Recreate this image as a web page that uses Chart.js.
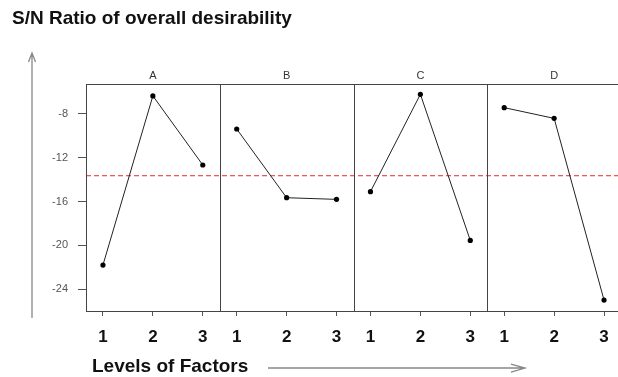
<!DOCTYPE html>
<html>
<head>
<meta charset="utf-8">
<script src="https://cdn.jsdelivr.net/npm/chart.js@4.4.1/dist/chart.umd.min.js"></script>
<style>
  html, body { margin: 0; padding: 0; background: #fff; overflow: hidden; width: 618px; height: 377px; }
  canvas { display: block; }
</style>
</head>
<body>
<canvas id="canvas" width="625" height="377" style="width:625px;height:377px"></canvas>
<script>
// values
const factors = ['A', 'B', 'C', 'D'];
const levels = [1, 2, 3];
const snA = [-21.8, -6.35, -12.66];
const snB = [-9.37, -15.65, -15.8];
const snC = [-15.1, -6.2, -19.55];
const snD = [-7.42, -8.4, -25.0];
const yTicks = [-8, -12, -16, -20, -24];
const overallMean = -13.64;

const yMin = -26.0, yMax = -5.26;
const pad = 0.34;
const span = (levels.length - 1) + 2 * pad;
const xMin = levels[0] - pad;
const xMax = xMin + span * factors.length;

const series = [snA, snB, snC, snD];
const xPos = (k, lv) => k * span + lv;

const datasets = series.map((vals, k) => ({
  label: factors[k],
  data: vals.map((v, i) => ({ x: xPos(k, levels[i]), y: v })),
  borderColor: '#222',
  backgroundColor: '#000',
  borderWidth: 1,
  pointRadius: 2.6,
  pointBorderWidth: 0,
  tension: 0
}));
datasets.push({
  label: 'mean',
  data: [{ x: xMin, y: overallMean }, { x: xMax, y: overallMean }],
  borderColor: 'rgb(238,40,40)',
  borderWidth: 1,
  borderDash: [5, 3],
  pointRadius: 0
});

const tickPositions = [];
factors.forEach((f, k) => levels.forEach(lv => tickPositions.push(xPos(k, lv))));

const decor = {
  id: 'decor',
  afterDraw(chart) {
    const { ctx, chartArea: a, scales: { x } } = chart;
    ctx.save();
    // frame and panel dividers
    ctx.strokeStyle = '#444';
    ctx.lineWidth = 1;
    ctx.strokeRect(a.left + 0.5, a.top + 0.5, a.right - a.left, a.bottom - a.top);
    ctx.beginPath();
    for (let k = 1; k < factors.length; k++) {
      const px = Math.round(x.getPixelForValue(xMin + k * span)) + 0.5;
      ctx.moveTo(px, a.top);
      ctx.lineTo(px, a.bottom);
    }
    ctx.stroke();
    // strip labels
    ctx.fillStyle = '#333';
    ctx.font = '11px "Liberation Sans", Arial, sans-serif';
    ctx.textAlign = 'center';
    ctx.textBaseline = 'middle';
    factors.forEach((f, k) => {
      ctx.fillText(f, x.getPixelForValue(xPos(k, levels[1])), a.top - 8);
    });
    // title
    ctx.fillStyle = '#111';
    ctx.font = 'bold 19px "Liberation Sans", Arial, sans-serif';
    ctx.textAlign = 'left';
    ctx.textBaseline = 'alphabetic';
    ctx.fillText('S/N Ratio of overall desirability', 12, 24);
    // y arrow
    ctx.strokeStyle = '#888';
    ctx.lineWidth = 1.3;
    ctx.beginPath();
    ctx.moveTo(32, 318);
    ctx.lineTo(32, 53);
    ctx.moveTo(28.5, 62);
    ctx.lineTo(32, 53);
    ctx.lineTo(35.5, 62);
    ctx.stroke();
    // x axis title and arrow
    ctx.fillStyle = '#111';
    ctx.font = 'bold 19px "Liberation Sans", Arial, sans-serif';
    ctx.fillText('Levels of Factors', 92, 372);
    ctx.strokeStyle = '#888';
    ctx.beginPath();
    ctx.moveTo(268, 368);
    ctx.lineTo(525, 368);
    ctx.moveTo(511, 364);
    ctx.lineTo(525, 368);
    ctx.lineTo(511, 372);
    ctx.stroke();
    ctx.restore();
  }
};

new Chart(document.getElementById('canvas'), {
  type: 'line',
  data: { datasets },
  options: {
    responsive: false,
    animation: false,
    devicePixelRatio: 1,
    layout: { padding: { left: 0, top: 84, right: 1, bottom: 0 } },
    plugins: { legend: { display: false }, tooltip: { enabled: false } },
    scales: {
      x: {
        type: 'linear',
        min: xMin,
        max: xMax,
        afterBuildTicks: s => { s.ticks = tickPositions.map(v => ({ value: v })); },
        afterFit: s => { s.height = 66; },
        grid: { drawOnChartArea: false, drawTicks: true, tickLength: 5, color: '#555' },
        border: { display: false },
        ticks: {
          autoSkip: false,
          maxRotation: 0,
          padding: 11,
          color: '#111',
          font: { family: '"Liberation Sans", Arial, sans-serif', size: 17, weight: 'bold' },
          callback: (v, i) => String(levels[i % levels.length])
        }
      },
      y: {
        min: yMin,
        max: yMax,
        afterBuildTicks: s => { s.ticks = yTicks.map(v => ({ value: v })); },
        afterFit: s => { s.width = 86; },
        grid: { drawOnChartArea: false, drawTicks: true, tickLength: 8, color: '#555' },
        border: { display: false },
        ticks: {
          padding: 10,
          color: '#555',
          font: { family: '"Liberation Sans", Arial, sans-serif', size: 11 }
        }
      }
    }
  },
  plugins: [decor]
});
</script>
</body>
</html>
